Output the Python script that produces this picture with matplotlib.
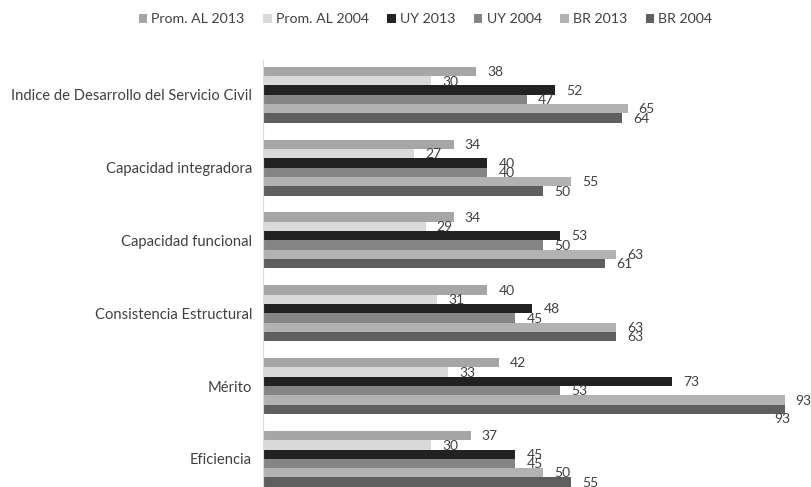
import numpy as np
import matplotlib.pyplot as plt

plt.rcParams['font.family'] = ['Lato', 'DejaVu Sans']

categories = ['Indice de Desarrollo del Servicio Civil', 'Capacidad integradora',
              'Capacidad funcional', 'Consistencia Estructural', 'Mérito', 'Eficiencia']
series = ['Prom. AL 2013', 'Prom. AL 2004', 'UY 2013', 'UY 2004', 'BR 2013', 'BR 2004']
prom_al_2013 = [38, 34, 34, 40, 42, 37]
prom_al_2004 = [30, 27, 29, 31, 33, 30]
uy_2013 = [52, 40, 53, 48, 73, 45]
uy_2004 = [47, 40, 50, 45, 53, 45]
br_2013 = [65, 55, 63, 63, 93, 50]
br_2004 = [64, 50, 61, 63, 93, 55]
colors = ['#a6a6a6', '#d9d9d9', '#222222', '#858585', '#b2b2b2', '#5f5f5f']

values = [prom_al_2013, prom_al_2004, uy_2013, uy_2004, br_2013, br_2004]

fig = plt.figure(figsize=(8.12, 4.87), dpi=100)
ax = fig.add_axes([263 / 812, 0.0, 544 / 812, 427 / 487])

y = np.arange(len(categories))
h = 0.128
for j, (name, vals, c) in enumerate(zip(series, values, colors)):
    pos = y + (j - 2.5) * h
    ax.barh(pos, vals, height=h, color=c, label=name)
    for p, v in zip(pos, vals):
        if name == 'BR 2004' and v > 90:
            # excel pushed this one under the bar end
            ax.annotate(str(v), (v, p), xytext=(4, -7), textcoords='offset points',
                        ha='right', va='center', fontsize=10, color='#404040')
        else:
            ax.annotate(str(v), (v, p), xytext=(8, -0.5), textcoords='offset points',
                        ha='left', va='center', fontsize=10, color='#404040')

ax.set_xlim(0, 97)
ax.set_ylim(5.387, -0.478)
ax.set_yticks(y)
ax.set_yticklabels(categories, fontsize=10.6, color='#404040')
ax.tick_params(axis='y', length=0, pad=8)
ax.set_xticks([])
for s in ['top', 'right', 'bottom']:
    ax.spines[s].set_visible(False)
ax.spines['left'].set_color('#d9d9d9')

handles, labels = ax.get_legend_handles_labels()
fig.legend(handles, labels, loc='center', bbox_to_anchor=(0.524, 1 - 19 / 487), ncol=6,
           frameon=False, fontsize=10.2, handlelength=0.6, handleheight=0.6,
           handletextpad=0.3, columnspacing=1.3, labelcolor='#404040')

fig.savefig('out.png', dpi=100)
